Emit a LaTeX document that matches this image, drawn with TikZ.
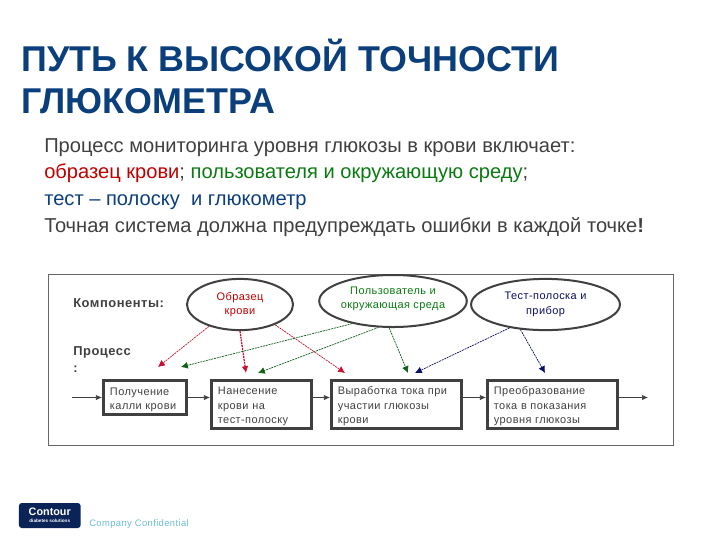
\documentclass[tikz,border=0pt]{standalone}
\usepackage{fontspec}
\setmainfont{Liberation Sans}
\newfontfamily\spacedfont[LetterSpace=4]{Liberation Sans}
\usetikzlibrary{shapes.geometric,arrows.meta}
\definecolor{titleblue}{HTML}{0B3F7C}
\definecolor{greytext}{HTML}{404040}
\definecolor{bloodred}{HTML}{C00000}
\definecolor{usergreen}{HTML}{0B7A12}
\definecolor{stripblue}{HTML}{0B3F7C}
\definecolor{arrred}{HTML}{C8102E}
\definecolor{arrgreen}{HTML}{11601A}
\definecolor{arrnavy}{HTML}{0A0F66}
\definecolor{logonavy}{HTML}{0A2458}
\definecolor{confblue}{HTML}{6DBBD8}
\begin{document}
\begin{tikzpicture}[
    x=0.025cm, y=-0.025cm,
    titleline/.style={anchor=base west, inner sep=0pt, font=\fontsize{25.5}{30}\selectfont\bfseries, text=titleblue},
    bodyline/.style={anchor=base west, inner sep=0pt, font=\fontsize{14.3}{16}\selectfont, text=greytext},
    sidelabel/.style={anchor=base west, inner sep=0pt, font=\fontsize{9.2}{11}\selectfont\spacedfont\bfseries, text=greytext},
    compell/.style={draw=greytext, ellipse, line width=0.05cm, inner sep=0pt, align=center,
                    font=\fontsize{7.8}{10.3}\selectfont\spacedfont},
    stepbox/.style={draw=greytext, line width=0.075cm, inner xsep=0.16cm, inner ysep=0pt, align=left,
                    minimum height=1.2cm, text height=0.3cm, text=greytext, font=\fontsize{7.8}{10.3}\selectfont\spacedfont},
    flow/.style={-{Latex[length=0.15cm,width=0.13cm]}, greytext, line width=0.5pt},
    redlink/.style={-{Latex[length=0.17cm,width=0.17cm]}, arrred, line width=0.5pt, dash pattern=on 1.4pt off 0.6pt},
    greenlink/.style={-{Latex[length=0.17cm,width=0.17cm]}, arrgreen, line width=0.5pt, dash pattern=on 1.4pt off 0.6pt},
    navylink/.style={-{Latex[length=0.17cm,width=0.17cm]}, arrnavy, line width=0.5pt, dash pattern=on 1.4pt off 0.6pt}
]
\useasboundingbox (0,0) rectangle (720,540);

%--------
% HEADING AND INTRO TEXT
%--------
\node[titleline] (title1) at (21, 71) {ПУТЬ К ВЫСОКОЙ ТОЧНОСТИ};
\node[titleline] (title2) at (21, 113) {ГЛЮКОМЕТРА};
\node[bodyline] (intro1) at (44, 152) {Процесс мониторинга уровня глюкозы в крови включает:};
\node[bodyline] (intro2) at (44, 178) {\textcolor{bloodred}{образец крови}; \textcolor{usergreen}{пользователя и окружающую среду};};
\node[bodyline, text=stripblue] (intro3) at (44, 205) {тест – полоску\ \ и глюкометр};
\node[bodyline] (intro4) at (44, 232) {Точная система должна предупреждать ошибки в каждой точке\textbf{!}};

%--------
% FRAME AND SIDE LABELS
%--------
\node[draw=greytext!80, line width=0.5pt, minimum width=15.625cm, minimum height=4.275cm, inner sep=0pt]
    (frame) at (360.5, 359.5) {};
\node[sidelabel] (complabel) at (73, 307) {Компоненты:};
\node[sidelabel] (proclabel) at (73, 355) {Процесс};
\node[sidelabel] (proccolon) at (73, 372) {:};

%--------
% COMPONENTS
%--------
\node[compell, minimum width=2.65cm, minimum height=1.28cm, text=bloodred] (sample) at (240, 304.5) {Образец\\крови};
\node[compell, minimum width=3.4cm, minimum height=1.3cm, text=usergreen, text depth=0.175cm] (user) at (393, 301) {Пользователь и\\окружающая среда};
\node[compell, minimum width=3.72cm, minimum height=1.28cm, text=arrnavy] (strip) at (545.5, 304.5) {Тест-полоска и\\прибор};

%--------
% PROCESS STEPS
%--------
\node[stepbox, minimum width=2.075cm, minimum height=0.85cm, text width=1.75cm] (step1) at (145, 397.5) {Получение\\калли крови};
\node[stepbox, minimum width=2.5cm, text width=2.18cm] (step2) at (261.5, 404.5) {Нанесение\\крови на\\тест-полоску};
\node[stepbox, minimum width=3.25cm, text width=2.93cm] (step3) at (396.5, 404.5) {Выработка тока при\\участии глюкозы\\крови};
\node[stepbox, minimum width=3.25cm, text width=2.93cm] (step4) at (552.5, 404.5) {Преобразование\\тока в показания\\уровня глюкозы};

\coordinate (flowin) at (72, 397.5);
\coordinate (flowout) at (648, 397.5);
\draw[flow] (flowin) -- (step1.west);
\draw[flow] (step1.east) -- (step2.west |- step1.east);
\draw[flow] (step2.east |- step1.east) -- (step3.west |- step1.east);
\draw[flow] (step3.east |- step1.east) -- (step4.west |- step1.east);
\draw[flow] (step4.east |- step1.east) -- (flowout);

%--------
% DOTTED LINKS (free ends stop above the steps)
%--------
\coordinate (redend1) at (158, 367);
\coordinate (redend2) at (246, 373);
\coordinate (redend3) at (345, 373);
\coordinate (greenend1) at (181, 367);
\coordinate (greenend2) at (258, 373);
\coordinate (greenend3) at (408, 373);
\coordinate (navyend1) at (415, 373);
\coordinate (navyend2) at (545, 373);

\draw[redlink] (sample.215) -- (redend1);
\draw[redlink, line width=0.9pt] (sample.270) -- (redend2);
\draw[redlink] (sample.330) -- (redend3);
\draw[greenlink] (user.209) -- (greenend1);
\draw[greenlink] (user.241) -- (greenend2);
\draw[greenlink] (user.262) -- (greenend3);
\draw[navylink] (strip.213) -- (navyend1);
\draw[navylink] (strip.225) -- (navyend2);

%--------
% FOOTER
%--------
\node[fill=logonavy, rounded corners=2pt, minimum width=1.54cm, minimum height=0.625cm, inner sep=0pt,
      text=white, align=center, font=\fontsize{7.7}{6}\selectfont\bfseries]
    (logo) at (49.75, 515.5) {Contour\\[-1pt]{\fontsize{3.3}{3}\selectfont diabetes solutions}};
\node[anchor=base west, inner sep=0pt, text=confblue, font=\fontsize{6.7}{8}\selectfont\spacedfont]
    (confidential) at (89, 526) {Company Confidential};
\end{tikzpicture}
\end{document}
